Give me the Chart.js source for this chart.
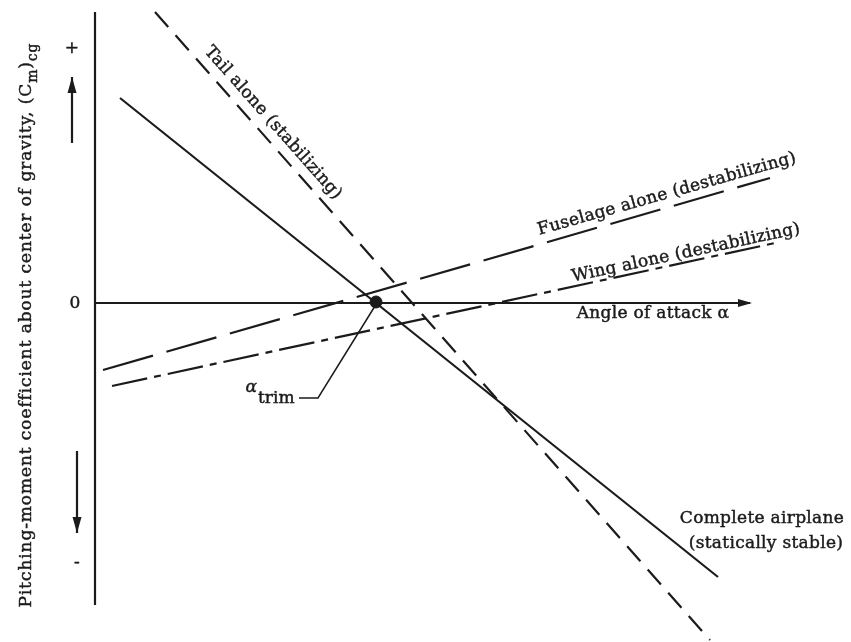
<!DOCTYPE html>
<html>
<head>
<meta charset="utf-8">
<script src="https://cdn.jsdelivr.net/npm/chart.js@4"></script>
<style>
  html, body { margin:0; padding:0; background:#fff; }
  #wrap { width:851px; height:642px; position:relative; }
</style>
</head>
<body>
<div id="wrap"><canvas id="c"></canvas></div>
<script>
// ===============================
// Datos (unidades arbitrarias: alfa en x, Cm en y)
// ===============================
const completeX = [2.5, 62.3];
const completeY = [20.5, -27.4];
const tailX     = [6.0, 61.5];
const tailY     = [29.1, -33.7];
const fuselageX = [0.8, 67.5];
const fuselageY = [-6.7, 12.5];
const wingX     = [1.7, 68.0];
const wingY     = [-8.3, 6.0];
const trimX     = [28.1];
const trimY     = [0.1];

// ejes del diagrama
const vAxisX = [0, 0];
const vAxisY = [29.1, -30.2];
const hAxisX = [0, 65.5];
const hAxisY = [0, 0];

// guía de alfa_trim
const leaderX = [28.0, 22.3, 20.4];
const leaderY = [-0.3, -9.5, -9.5];

const INK = "#1b1b1b";
const SERIF = '"DejaVu Serif", "Liberation Serif", serif';

const pts = (xs, ys) => xs.map((x, i) => ({ x, y: ys[i] }));

const lineDs = (data, dash, width = 2.2) => ({
  data, showLine: true, borderColor: INK, borderWidth: width,
  borderDash: dash, pointRadius: 0, fill: false, tension: 0
});

// ===============================
// Plugin: textos y flechas
// ===============================
const labels = [
  { text: "Tail alone (stabilizing)", x: 17.8, y: 18.0, angle: 48.5 },
  { text: "Fuselage alone (destabilizing)", x: 57.2, y: 10.9, angle: -15.8 },
  { text: "Wing alone (destabilizing)", x: 59.1, y: 5.0, angle: -12.0 },
  { text: "Angle of attack \u03b1", x: 55.8, y: -1.1, angle: 0 },
  { text: "Complete airplane", x: 66.7, y: -21.6, angle: 0 },
  { text: "(statically stable)", x: 67.1, y: -24.1, angle: 0 },
  { text: "0", x: -2.0, y: -0.1, angle: 0 },
  { text: "+", x: -2.3, y: 25.4, angle: 0 },
  { text: "-", x: -1.8, y: -26.0, angle: 0 }
];

const arrows = [
  { x1: -2.3, y1: 16.0, x2: -2.3, y2: 22.6 },
  { x1: -1.8, y1: -14.8, x2: -1.8, y2: -23.0 }
];

function arrowHead(ctx, x1, y1, x2, y2, len, half) {
  const a = Math.atan2(y2 - y1, x2 - x1);
  ctx.beginPath();
  ctx.moveTo(x2, y2);
  ctx.lineTo(x2 - len * Math.cos(a) + half * Math.sin(a), y2 - len * Math.sin(a) - half * Math.cos(a));
  ctx.lineTo(x2 - len * Math.cos(a) - half * Math.sin(a), y2 - len * Math.sin(a) + half * Math.cos(a));
  ctx.closePath();
  ctx.fill();
}

// texto con un trazo fino para dar el peso del original
function inkText(ctx, t, px, py) {
  ctx.fillText(t, px, py);
  ctx.strokeText(t, px, py);
}

const decor = {
  id: "decor",
  afterDatasetsDraw(chart) {
    const { ctx, scales: { x, y } } = chart;
    ctx.save();
    ctx.fillStyle = INK;
    ctx.strokeStyle = INK;
    ctx.textAlign = "center";
    ctx.textBaseline = "middle";
    ctx.lineWidth = 0.45;

    // etiquetas de curvas
    ctx.font = `17px ${SERIF}`;
    ctx.letterSpacing = "0.3px";
    for (const l of labels) {
      ctx.save();
      ctx.translate(x.getPixelForValue(l.x), y.getPixelForValue(l.y));
      ctx.rotate(l.angle * Math.PI / 180);
      inkText(ctx, l.text, 0, 0);
      ctx.restore();
    }
    ctx.letterSpacing = "0px";

    // alfa_trim
    const ax = x.getPixelForValue(leaderX[2]), ay = y.getPixelForValue(leaderY[2]);
    ctx.textAlign = "right";
    ctx.font = `italic 17px ${SERIF}`;
    inkText(ctx, "\u03b1", ax - 42, ay - 10);
    ctx.textAlign = "left";
    ctx.font = `17px ${SERIF}`;
    inkText(ctx, "trim", ax - 41, ay + 1);

    // título eje y (rotado)
    ctx.save();
    ctx.translate(27, 325);
    ctx.rotate(-Math.PI / 2);
    const parts = [
      { t: "Pitching-moment coefficient about center of gravity, (C", s: false },
      { t: "m", s: true },
      { t: ")", s: false },
      { t: "cg", s: true }
    ];
    const fBig = `17px ${SERIF}`, fSmall = `14px ${SERIF}`;
    ctx.letterSpacing = "0.9px";
    let total = 0;
    for (const p of parts) { ctx.font = p.s ? fSmall : fBig; total += ctx.measureText(p.t).width; }
    let cx = -total / 2;
    ctx.textAlign = "left";
    for (const p of parts) {
      ctx.font = p.s ? fSmall : fBig;
      inkText(ctx, p.t, cx, p.s ? 6 : 0);
      cx += ctx.measureText(p.t).width;
    }
    ctx.restore();

    // flecha del eje horizontal
    const hx1 = x.getPixelForValue(hAxisX[0]), hx2 = x.getPixelForValue(hAxisX[1]);
    const hy = y.getPixelForValue(hAxisY[1]);
    arrowHead(ctx, hx1, hy, hx2 + 2, hy, 14, 4);

    // flechas +/-
    ctx.lineWidth = 2.2;
    for (const a of arrows) {
      const px1 = x.getPixelForValue(a.x1), py1 = y.getPixelForValue(a.y1);
      const px2 = x.getPixelForValue(a.x2), py2 = y.getPixelForValue(a.y2);
      ctx.beginPath(); ctx.moveTo(px1, py1); ctx.lineTo(px2, py2); ctx.stroke();
      arrowHead(ctx, px1, py1, px2, py2, 16, 4.5);
    }

    ctx.restore();
  }
};

// ===============================
// Gráfico
// ===============================
new Chart(document.getElementById("c"), {
  type: "scatter",
  data: {
    datasets: [
      lineDs(pts(vAxisX, vAxisY), []),
      lineDs(pts(hAxisX, hAxisY), []),
      lineDs(pts(completeX, completeY), []),
      lineDs(pts(tailX, tailY), [20, 11]),
      lineDs(pts(fuselageX, fuselageY), [52, 14]),
      lineDs(pts(wingX, wingY), [36, 7, 7, 7]),
      lineDs(pts(leaderX, leaderY), [], 1.5),
      { data: pts(trimX, trimY), pointRadius: 6, pointBackgroundColor: INK, pointBorderColor: INK, showLine: false }
    ]
  },
  options: {
    responsive: true,
    maintainAspectRatio: false,
    animation: false,
    layout: { padding: 0, autoPadding: false },
    plugins: { legend: { display: false }, tooltip: { enabled: false } },
    scales: {
      x: { type: "linear", display: false, min: -9.5, max: 75.6 },
      y: { type: "linear", display: false, min: -33.9, max: 30.3 }
    }
  },
  plugins: [decor]
});
</script>
</body>
</html>
